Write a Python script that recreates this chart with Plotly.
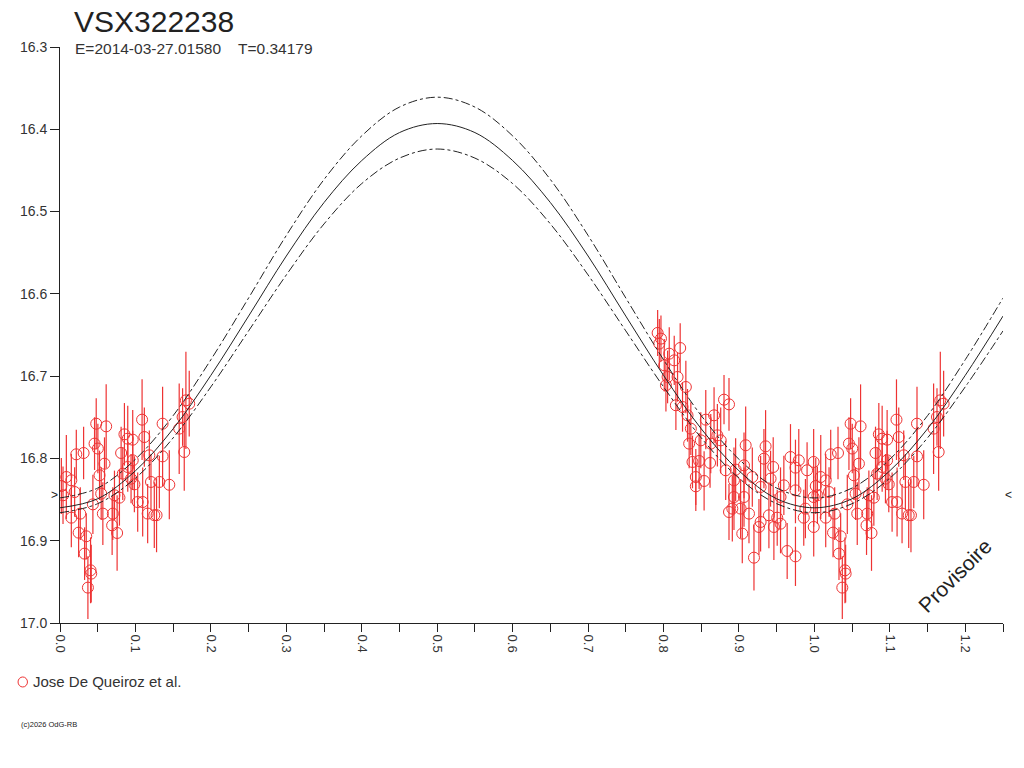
import plotly.graph_objects as go

# observations folded on the period (phase, magnitude, error)
early_phase = [0.0018, 0.0084, 0.0040, 0.0150, 0.0194, 0.0216, 0.0313, 0.0150, 0.0269, 0.0247,
               0.0348, 0.0326, 0.0405, 0.0414, 0.0370, 0.0480, 0.0612, 0.0458, 0.0502, 0.0590,
               0.0524, 0.0546, 0.0436, 0.0568, 0.0700, 0.0691, 0.0757, 0.0722, 0.0788, 0.0810,
               0.0854, 0.0898, 0.0964, 0.0832, 0.0898, 0.0964, 0.0942, 0.0986, 0.1030, 0.1088,
               0.1118, 0.1096, 0.1162, 0.1206, 0.1250, 0.1184, 0.1317, 0.1360, 0.1360, 0.1280,
               0.1449, 0.1580, 0.1647, 0.1669, 0.1713, 0.1625]
early_mag = [16.8335, 16.8226, 16.8448, 16.8266, 16.8408, 16.7950, 16.7934, 16.8720, 16.8671, 16.8902,
             16.8946, 16.9157, 16.9360, 16.9400, 16.9570, 16.7578, 16.7610, 16.7820, 16.7880, 16.8064,
             16.8205, 16.8428, 16.8558, 16.8671, 16.8671, 16.8813, 16.8906, 16.8448, 16.8477, 16.7934,
             16.7707, 16.7760, 16.7772, 16.8185, 16.8104, 16.8023, 16.8246, 16.8315, 16.8530, 16.7529,
             16.7740, 16.8530, 16.8670, 16.8286, 16.8690, 16.7962, 16.8286, 16.7578, 16.7975, 16.8690,
             16.8320, 16.7638, 16.7922, 16.7294, 16.7335, 16.7497]
early_err = [0.034, 0.051, 0.035, 0.032, 0.030, 0.030, 0.032, 0.036, 0.032, 0.030,
             0.028, 0.032, 0.040, 0.035, 0.038, 0.031, 0.051, 0.032, 0.030, 0.032,
             0.030, 0.032, 0.036, 0.038, 0.032, 0.036, 0.046, 0.030, 0.034, 0.032,
             0.038, 0.040, 0.036, 0.032, 0.030, 0.036, 0.030, 0.034, 0.036, 0.049,
             0.036, 0.042, 0.036, 0.034, 0.040, 0.030, 0.032, 0.045, 0.036, 0.045,
             0.042, 0.055, 0.047, 0.059, 0.040, 0.035]

late_phase = [0.7922, 0.7966, 0.7944, 0.8221, 0.8076, 0.8142, 0.8010, 0.8054, 0.8186, 0.8032,
              0.8164, 0.8252, 0.8296, 0.8802, 0.8868, 0.8670, 0.8560, 0.8318, 0.8362, 0.8714,
              0.8494, 0.8340, 0.8626, 0.8758, 0.9089, 0.9353, 0.8384, 0.8472, 0.8617, 0.8824,
              0.9331, 0.9067, 0.8956, 0.9454, 0.9683, 0.9793, 0.9749, 0.9903, 0.9990, 0.8428,
              0.8538, 0.8428, 0.8934, 0.9177, 0.9419, 0.9287, 0.9595, 0.9749, 0.8934, 0.9067,
              0.8912, 0.9022, 0.8868, 0.9133, 0.9397, 0.9287, 0.9507, 0.9551, 0.9463, 0.9881,
              0.9859, 0.9991, 0.9044, 0.9199, 0.9639, 0.9749, 0.9265, 0.9551, 0.9990]
late_mag = [16.6475, 16.6544, 16.6605, 16.6658, 16.6727, 16.6808, 16.6868, 16.7010, 16.7010, 16.7111,
            16.7354, 16.7375, 16.7132, 16.7286, 16.7343, 16.7476, 16.7529, 16.7476, 16.7638, 16.7719,
            16.7780, 16.7820, 16.7820, 16.7780, 16.7840, 16.7853, 16.8043, 16.8031, 16.8055, 16.8144,
            16.8003, 16.8084, 16.8136, 16.8104, 16.7983, 16.8023, 16.8112, 16.8144, 16.8043, 16.8226,
            16.8274, 16.8339, 16.8266, 16.8226, 16.8246, 16.8347, 16.8327, 16.8388, 16.8469, 16.8469,
            16.8610, 16.8610, 16.8651, 16.8671, 16.8691, 16.8772, 16.8720, 16.8793, 16.8833, 16.8610,
            16.8720, 16.8833, 16.8914, 16.9206, 16.9125, 16.9190, 16.8833, 16.8469, 16.8469]
late_err = [0.028, 0.028, 0.030, 0.030, 0.032, 0.030, 0.032, 0.032, 0.030, 0.032,
            0.030, 0.030, 0.032, 0.030, 0.032, 0.034, 0.036, 0.032, 0.032, 0.038,
            0.034, 0.030, 0.036, 0.040, 0.047, 0.044, 0.032, 0.034, 0.030, 0.036,
            0.036, 0.040, 0.038, 0.036, 0.040, 0.038, 0.034, 0.034, 0.040, 0.034,
            0.036, 0.030, 0.040, 0.036, 0.034, 0.038, 0.036, 0.040, 0.040, 0.036,
            0.040, 0.036, 0.034, 0.036, 0.040, 0.036, 0.034, 0.036, 0.040, 0.036,
            0.034, 0.036, 0.036, 0.040, 0.034, 0.036, 0.034, 0.036, 0.036]

# fitted light curve and its envelope, read every 0.05 in phase
curve_phase = [0.00, 0.05, 0.10, 0.15, 0.20, 0.25, 0.30, 0.35, 0.40, 0.45, 0.50, 0.55, 0.60,
               0.65, 0.70, 0.75, 0.80, 0.85, 0.90, 0.95, 1.00, 1.05, 1.10, 1.15, 1.20, 1.25]
curve_mid = [16.860, 16.849, 16.815, 16.764, 16.699, 16.627, 16.554, 16.489, 16.438, 16.404, 16.393,
             16.404, 16.438, 16.489, 16.554, 16.627, 16.699, 16.764, 16.815, 16.849, 16.860,
             16.849, 16.815, 16.764, 16.699, 16.627]
curve_bright = [16.848, 16.836, 16.801, 16.748, 16.680, 16.605, 16.529, 16.461, 16.408, 16.373, 16.361,
                16.373, 16.408, 16.461, 16.529, 16.605, 16.680, 16.748, 16.801, 16.836, 16.848,
                16.836, 16.801, 16.748, 16.680, 16.605]
curve_faint = [16.866, 16.855, 16.824, 16.775, 16.713, 16.645, 16.577, 16.515, 16.466, 16.435, 16.424,
               16.435, 16.466, 16.515, 16.577, 16.645, 16.713, 16.775, 16.824, 16.855, 16.866,
               16.855, 16.824, 16.775, 16.713, 16.645]

x_ticks = [0.0, 0.1, 0.2, 0.3, 0.4, 0.5, 0.6, 0.7, 0.8, 0.9, 1.0, 1.1, 1.2]
y_ticks = [16.3, 16.4, 16.5, 16.6, 16.7, 16.8, 16.9, 17.0]

RED = "#ee3333"
INK = "#222222"
FONT = "Liberation Sans, Arial, sans-serif"

# the start of the cycle is shown again after phase 1
xs = late_phase + early_phase + [p + 1 for p in early_phase]
ys = late_mag + early_mag + early_mag
es = late_err + early_err + early_err

fig = go.Figure()
fig.add_trace(go.Scatter(
    x=xs, y=ys, mode="markers", name="Jose De Queiroz et al.", showlegend=False,
    marker=dict(symbol="circle-open", size=11, color=RED, line=dict(width=1, color=RED)),
    error_y=dict(type="data", array=es, color=RED, thickness=1.2, width=0),
))
for vals, dash in [(curve_bright, "dashdot"), (curve_mid, "solid"), (curve_faint, "dashdot")]:
    fig.add_trace(go.Scatter(
        x=curve_phase, y=vals, mode="lines", showlegend=False, hoverinfo="skip",
        line=dict(color=INK, width=1, dash=dash, shape="spline"),
    ))

# page body adds 8px, so margins are trimmed by that much
fig.update_layout(
    width=1024, height=768,
    margin=dict(l=47, r=29, t=39, b=153),
    paper_bgcolor="white", plot_bgcolor="white",
    font=dict(family=FONT, size=13, color="#333333"),
    xaxis=dict(range=[0, 1.25], tickvals=x_ticks, ticktext=["%.1f" % v for v in x_ticks],
               tickangle=90, ticks="outside", ticklen=8, tickcolor=INK,
               showline=True, linecolor=INK, linewidth=1, showgrid=False, zeroline=False,
               minor=dict(dtick=0.05, tick0=0, ticks="outside", ticklen=8, tickcolor=INK),
               tickfont=dict(size=13, color="#333333")),
    yaxis=dict(range=[17.0, 16.3], tickvals=y_ticks, ticktext=["%.1f" % v for v in y_ticks],
               ticks="outside", ticklen=9, tickcolor=INK,
               showline=True, linecolor=INK, linewidth=1, showgrid=False, zeroline=False,
               tickfont=dict(size=14, color="#333333")),
    shapes=[
        dict(type="circle", xref="paper", yref="paper", x0=-0.0445, x1=-0.0345,
             y0=-0.1111, y1=-0.0937, line=dict(color=RED, width=1)),
    ],
    annotations=[
        dict(text="VSX322238", xref="paper", yref="paper", x=0.013, y=1.044,
             xanchor="left", yanchor="middle", showarrow=False,
             font=dict(size=30, color="#222222")),
        dict(text="E=2014-03-27.01580    T=0.34179", xref="paper", yref="paper",
             x=0.014, y=0.998, xanchor="left", yanchor="middle", showarrow=False,
             font=dict(size=15.5, color="#333333")),
        dict(text="Provisoire", xref="paper", yref="paper", x=0.949, y=0.083,
             xanchor="center", yanchor="middle", showarrow=False, textangle=-45,
             font=dict(size=21, color="#222222")),
        dict(text="&gt;", xref="paper", yref="y", x=0.0, y=16.845, showarrow=False,
             xanchor="right", yanchor="middle", font=dict(size=12, color=INK)),
        dict(text="&lt;", xref="paper", yref="y", x=1.0, y=16.845, showarrow=False,
             xanchor="left", yanchor="middle", font=dict(size=12, color=INK)),
        dict(text="Jose De Queiroz et al.", xref="paper", yref="paper", x=-0.031, y=-0.1024,
             xanchor="left", yanchor="middle", showarrow=False,
             font=dict(size=15, color="#333333")),
        dict(text="(c)2026 OdG-RB", xref="paper", yref="paper", x=-0.043, y=-0.177,
             xanchor="left", yanchor="middle", showarrow=False,
             font=dict(size=7.5, color="#222222")),
    ],
)

fig.write_html("out.html")
